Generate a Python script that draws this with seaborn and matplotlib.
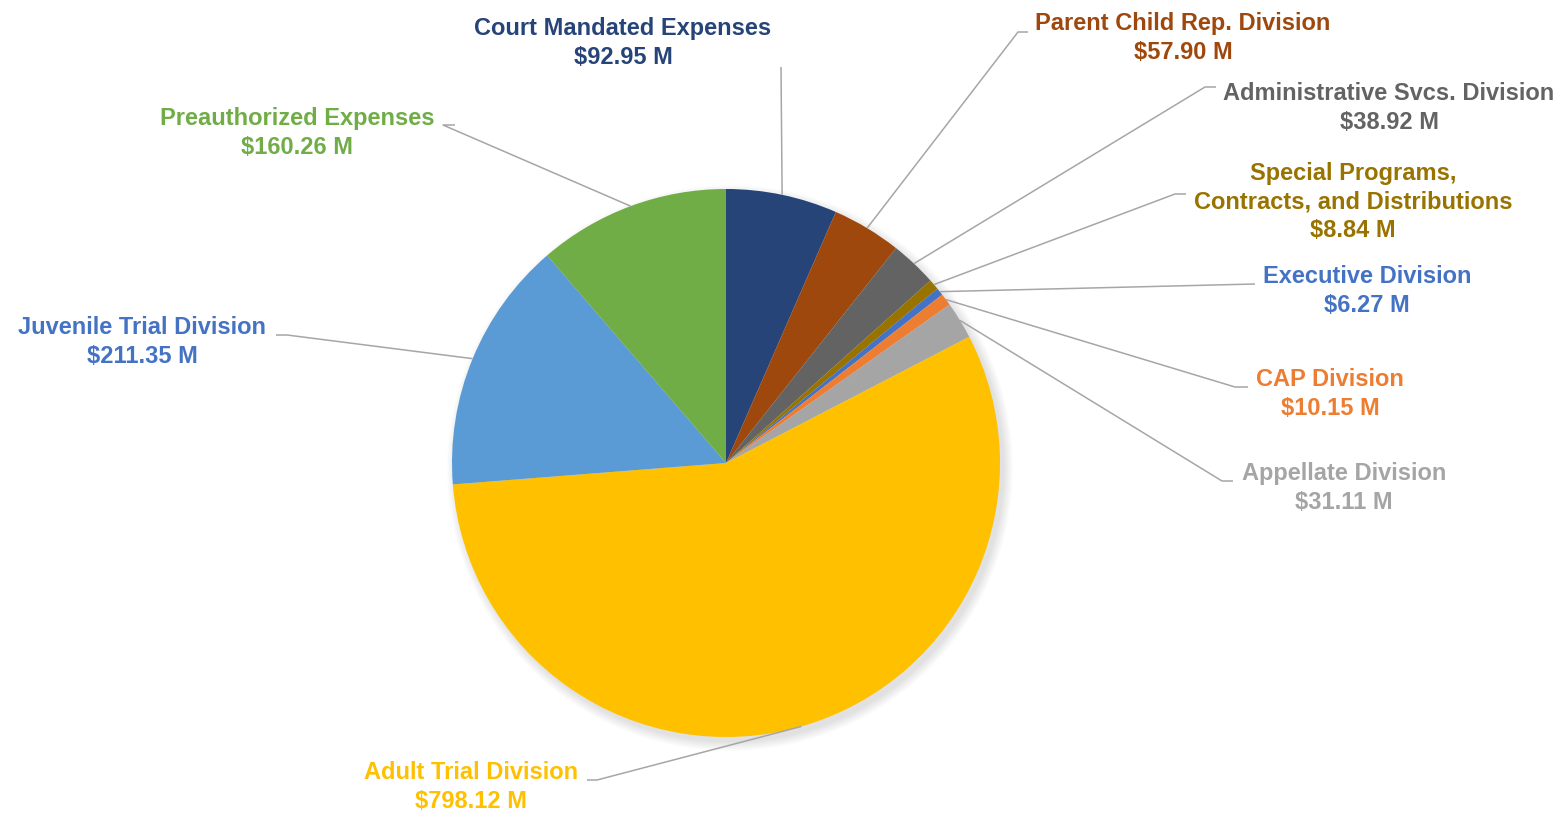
import numpy as np
import matplotlib
matplotlib.use("Agg")
import matplotlib.pyplot as plt
from matplotlib.patches import Circle
import seaborn as sns

sns.set_style("white")
plt.rcParams["font.family"] = ["Liberation Sans", "DejaVu Sans"]

# Budget by division, in millions of dollars (clockwise from 12 o'clock)
divisions = [
    "Court Mandated Expenses",
    "Parent Child Rep. Division",
    "Administrative Svcs. Division",
    "Special Programs,\nContracts, and Distributions",
    "Executive Division",
    "CAP Division",
    "Appellate Division",
    "Adult Trial Division",
    "Juvenile Trial Division",
    "Preauthorized Expenses",
]
amounts = [92.95, 57.90, 38.92, 8.84, 6.27, 10.15, 31.11, 798.12, 211.35, 160.26]

slice_colors = ["#264478", "#9E480E", "#636363", "#997300", "#4472C4",
                "#ED7D31", "#A5A5A5", "#FFC000", "#5B9BD5", "#70AD47"]
label_colors = ["#264478", "#9E480E", "#636363", "#997300", "#4472C4",
                "#ED7D31", "#A5A5A5", "#FFC000", "#4472C4", "#70AD47"]

W, H = 1564, 817
fig = plt.figure(figsize=(W / 100, H / 100), dpi=100)
ax = fig.add_axes([0, 0, 1, 1])
ax.set_xlim(0, W)
ax.set_ylim(0, H)
ax.set_aspect("equal")
ax.axis("off")


def py(y):
    """Convert a top-down pixel row to the axes' bottom-up coordinate."""
    return H - y


cx, cy, r = 726, py(463), 274

# soft drop shadow under the pie
for i in range(10):
    ax.add_patch(Circle((cx + 4, cy - 5), r + 9 - i, color="black",
                        alpha=0.012, lw=0, zorder=0))

wedges, _ = ax.pie(amounts, colors=slice_colors, startangle=90,
                   counterclock=False, center=(cx, cy), radius=r,
                   wedgeprops=dict(linewidth=0), frame=True)
ax.set_xlim(0, W)
ax.set_ylim(0, H)
ax.axis("off")

# label placement: text centre, leader elbow, end of short horizontal tick
label_pos = [(623, 43), (1183, 38), (1389, 108), (1353, 202), (1367, 291),
             (1330, 394), (1344, 488), (471, 787), (142, 342), (297, 133)]
elbows = [(781, 67), (1018, 32), (1205, 87), (1175, 194), (1255, 284),
          (1235, 387), (1222, 481), (597, 780), (287, 335), (443, 125)]
ticks = [None, (1028, 32), (1216, 87), (1186, 194), None,
         (1248, 387), (1233, 481), (587, 780), (276, 335), (455, 125)]

for w, name, val, col, (lx, ly), elb, tk in zip(
        wedges, divisions, amounts, label_colors, label_pos, elbows, ticks):
    mid = np.deg2rad((w.theta1 + w.theta2) / 2)
    px_, py_ = cx + r * np.cos(mid), cy + r * np.sin(mid)
    xs = [px_, elb[0]]
    ys = [py_, py(elb[1])]
    if tk is not None:
        xs.append(tk[0])
        ys.append(py(tk[1]))
    ax.plot(xs, ys, color="#A6A6A6", lw=1.1, zorder=3, solid_capstyle="butt")
    ax.text(lx, py(ly), f"{name}\n${val:.2f} M", ha="center", va="center",
            multialignment="center", fontsize=17, fontweight="bold",
            color=col, linespacing=1.28, zorder=4)

fig.savefig("out.png", dpi=100, facecolor="white")
